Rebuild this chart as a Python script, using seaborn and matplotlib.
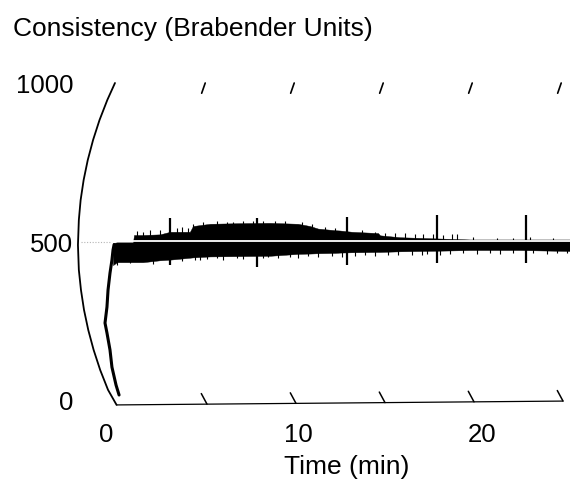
import numpy as np
import matplotlib.pyplot as plt
import seaborn as sns

# Style settings
sns.set_theme(style="white")
plt.rcParams['font.family'] = ['Liberation Sans', 'DejaVu Sans']
plt.rcParams['text.color'] = 'black'

# === Data (time in min, consistency in BU) ===
# left arc of the chart paper
arc_t = [-0.17, -0.60, -1.04, -1.40, -1.70, -1.93, -2.10, -2.20, -2.25,
         -2.20, -2.08, -1.91, -1.67, -1.37, -1.00, -0.56, -0.08]
arc_u = [1000, 947, 884, 822, 759, 697, 634, 572, 494,
         416, 353, 291, 228, 166, 103, 41, -6]

# rising part of the trace (dough mixing start)
rise_t = [0.06, -0.11, -0.34, -0.45, -0.62, -0.73, -0.62, -0.56, -0.45, -0.34, -0.28, -0.22]
rise_u = [25, 56, 112, 166, 219, 250, 300, 353, 406, 447, 478, 495]

# band of the trace
band_t = [-0.28, -0.06, 0.84, 0.90, 1.40, 2.36, 2.92, 3.31, 4.04, 4.21, 5.17,
          6.85, 8.54, 10.11, 10.79, 11.24, 12.19, 12.47, 13.15, 14.61, 14.72,
          15.84, 16.97, 18.09, 19.78, 22.58, 25.39]
band_low = [431, 440, 440, 440, 440, 446, 448, 450, 454, 455, 458,
            459, 460, 466, 467, 468, 469, 470, 471, 472, 472,
            474, 475, 476, 478, 478, 475]
band_high = [500, 502, 502, 525, 525, 527, 535, 535, 535, 553, 560,
             562, 563, 560, 553, 545, 540, 539, 535, 531, 524,
             518, 516, 514, 511, 511, 511]

# large periodic spikes (time, top, bottom)
spike_t = [2.92, 7.81, 12.87, 17.92, 22.92]
spike_top = [578, 578, 581, 587, 587]
spike_bot = [431, 425, 431, 437, 437]

# small hairs above the band
hair_up_t = [1.07, 1.40, 1.80, 2.36, 3.31, 3.60, 3.93, 4.21, 4.78, 5.56, 6.12,
             6.46, 7.02, 7.58, 8.15, 8.82, 9.38, 10.34, 10.90, 11.63, 12.19,
             13.71, 14.44, 15.00, 15.56, 16.12, 16.69, 17.13, 17.70, 18.26,
             18.76, 19.04, 19.94, 21.29, 22.19, 23.15, 24.44]
hair_up_u = [537, 535, 540, 540, 547, 550, 548, 560, 566, 568, 566,
             567, 569, 570, 570, 569, 568, 565, 560, 550, 547,
             540, 535, 530, 531, 530, 529, 528, 527, 526,
             528, 527, 520, 517, 515, 518, 516]

# small hairs below the band
hair_dn_t = [-0.06, 0.67, 1.97, 3.60, 4.33, 4.61, 5.00, 5.56, 5.90, 6.69, 7.02,
             8.15, 8.43, 8.99, 9.66, 10.11, 10.67, 11.24, 12.02, 12.58, 13.31,
             13.88, 14.44, 15.17, 15.73, 16.52, 17.08, 17.36, 18.09, 18.65,
             19.38, 20.17, 20.90, 21.46, 22.19, 23.31, 24.10, 24.66, 25.22]
hair_dn_u = [431, 436, 434, 445, 448, 446, 450, 452, 448, 452, 450,
             452, 455, 452, 456, 452, 458, 456, 460, 457, 458,
             462, 460, 462, 463, 464, 462, 465, 462, 466,
             468, 466, 468, 466, 468, 470, 466, 470, 468]

# chart paper ticks every 5 min
tick_t = [5, 10, 15, 20, 25]

y_labels = ['1000', '500', '0']
x_labels = ['0', '10', '20']

# === Figure ===
W, H = 570, 491
fig = plt.figure(figsize=(W / 100, H / 100), dpi=100)
ax = fig.add_axes([0, 0, 1, 1])
ax.axis('off')
# pixel x = 118 + 17.8 * t ; pixel y = 403 - 0.32 * u
ax.set_xlim(-118 / 17.8, (W - 118) / 17.8)
ax.set_ylim((403 - H) / 0.32, 403 / 0.32)

sns.lineplot(x=arc_t, y=arc_u, sort=False, estimator=None, color='black', lw=1.3, ax=ax)

# baseline and ticks
ax.plot([-0.06, 25.0], [-6, 6], color='black', lw=0.9)
for t in tick_t:
    base = -6 + 12 * (t + 0.06) / 25.06
    ax.plot([t - 0.32, t], [base + 33, base], color='black', lw=1.1)
    ax.plot([t - 0.30, t - 0.10], [968, 1000], color='black', lw=1.2)

# trace
ax.fill_between(band_t, band_low, band_high, color='black', lw=0.3, edgecolor='black')
sns.lineplot(x=rise_t, y=rise_u, sort=False, estimator=None, color='black', lw=2.2, ax=ax)
ax.vlines(spike_t, spike_bot, spike_top, color='black', lw=1.6)
ax.vlines(hair_up_t, 505, hair_up_u, color='black', lw=0.8)
ax.vlines(hair_dn_t, hair_dn_u, 495, color='black', lw=0.8)

# 500 reference line (white through the trace, dotted grey left of it)
ax.plot([0.84, 25.39], [505.5, 505.5], color='white', lw=1.3)
ax.plot([-2.1, -0.45], [503, 503], color='#b5b5b5', lw=0.8, linestyle=(0, (1, 1.5)))

# texts (pixel positions)
def px(x, y):
    return x / W, 1 - y / H

fig.text(*px(13, 36), 'Consistency (Brabender Units)', fontsize=19, ha='left', va='baseline')
for lab, yb in zip(y_labels, [93, 252, 410]):
    fig.text(*px(73, yb), lab, fontsize=18.5, ha='right', va='baseline')
for lab, xc in zip(x_labels, [106, 298, 482]):
    fig.text(*px(xc, 442), lab, fontsize=18.5, ha='center', va='baseline')
fig.text(*px(347, 474), 'Time (min)', fontsize=19, ha='center', va='baseline')

plt.savefig("out.png", dpi=100)
plt.close()
